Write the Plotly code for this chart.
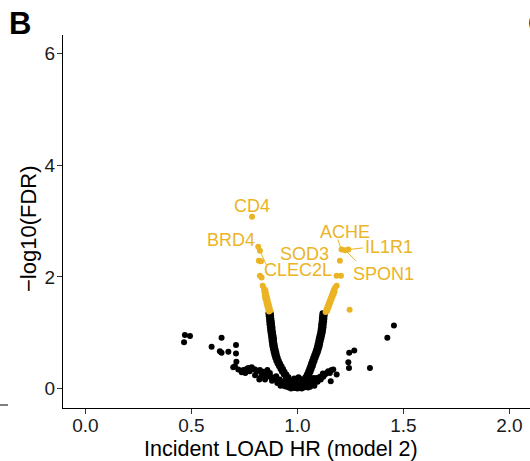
import plotly.graph_objects as go

GOLD = "#EBB425"
FONT = "Liberation Sans, Arial, Helvetica, sans-serif"

# ---- non-significant proteins (black) ----
left_arm_fdr = [1.35,1.35,1.30,1.30,1.25,1.25,1.20,1.20,1.15,1.15,1.10,1.10,1.05,1.05,1.00,1.00,
                0.95,0.95,0.90,0.90,0.85,0.85,0.80,0.80,0.75,0.75,0.70,0.70,0.65,0.65,0.60,0.60,
                0.55,0.55,0.50,0.50,0.45,0.45,0.40,0.40,0.35,0.35,0.30,0.30,0.25,0.25,0.20,0.20,
                0.15,0.15,0.10,0.10,0.05,0.05,0.02,0.02]
left_arm_hr = [0.863,0.874,0.864,0.876,0.866,0.877,0.867,0.879,0.868,0.880,0.870,0.882,0.871,0.883,
               0.873,0.885,0.875,0.887,0.877,0.889,0.878,0.890,0.880,0.892,0.882,0.894,0.885,0.897,
               0.888,0.900,0.891,0.903,0.895,0.907,0.900,0.912,0.906,0.918,0.913,0.925,0.920,0.932,
               0.927,0.939,0.936,0.948,0.946,0.958,0.956,0.968,0.966,0.978,0.979,0.991,0.990,1.000]
right_arm_fdr = list(left_arm_fdr)
right_arm_hr = [1.118,1.130,1.116,1.128,1.115,1.127,1.114,1.126,1.112,1.124,1.111,1.123,1.109,1.121,
                1.107,1.119,1.104,1.116,1.101,1.113,1.098,1.110,1.095,1.107,1.092,1.104,1.088,1.100,
                1.084,1.096,1.079,1.091,1.074,1.086,1.069,1.081,1.064,1.076,1.060,1.072,1.055,1.067,
                1.050,1.062,1.044,1.056,1.037,1.049,1.029,1.041,1.019,1.031,1.007,1.019,0.998,1.010]
wing_hr = [0.697,0.705,0.721,0.737,0.745,0.760,0.768,0.784,0.792,0.800,0.807,0.823,0.839,0.858,
           0.820,0.823,0.840,0.847,0.860,0.870,0.880,0.894,0.905,0.917,0.930,0.948,0.955,0.973,
           0.960,0.985,0.870,0.850,0.775,0.754,0.800,0.830,0.880,0.900,0.910,0.940,
           1.169,1.161,1.153,1.138,1.130,1.185,1.122,1.106,1.090,1.075,1.157,1.067,1.059,1.043,
           1.027,1.020,1.110,1.095,1.080,1.060,1.040,1.120,1.145,
           0.970,0.980,0.990,1.000,1.010,1.020,1.030,0.950,1.050,0.960,1.040,0.990,1.010,1.000,
           0.940,1.060,0.920,1.080,0.990,1.020,0.975,0.985,1.005,1.015]
wing_fdr = [0.38,0.40,0.34,0.29,0.33,0.35,0.37,0.38,0.35,0.34,0.31,0.33,0.30,0.33,
            0.16,0.19,0.22,0.16,0.25,0.21,0.14,0.17,0.10,0.16,0.08,0.10,0.05,0.04,
            0.02,0.01,0.28,0.25,0.31,0.28,0.24,0.27,0.20,0.22,0.12,0.13,
            0.34,0.33,0.28,0.28,0.25,0.25,0.21,0.21,0.19,0.19,0.13,0.13,0.13,0.10,
            0.07,0.03,0.16,0.12,0.10,0.06,0.04,0.27,0.31,
            0.00,0.05,0.02,0.00,0.01,0.00,0.02,0.03,0.02,0.08,0.07,0.10,0.08,0.04,
            0.04,0.03,0.05,0.05,0.15,0.12,0.12,0.18,0.20,0.17]
outlier_hr = [0.469,0.493,0.465,0.642,0.595,0.634,0.642,0.674,0.710,0.710,0.712,
              1.455,1.424,1.244,1.268,1.240,1.243,1.342]
outlier_fdr = [0.96,0.94,0.83,0.91,0.75,0.67,0.64,0.66,0.78,0.63,0.48,
               1.13,0.91,0.64,0.68,0.47,0.37,0.37]

# ---- significant proteins (gold) ----
sig_hr = [0.866,0.872,0.862,0.868,0.858,0.865,0.855,0.861,0.852,0.858,0.848,0.855,0.846,0.852,
          0.844,0.849,0.842,0.836,0.831,0.823,0.818,0.828,
          1.133,1.140,1.137,1.145,1.142,1.150,1.147,1.155,1.152,1.160,1.157,1.165,1.162,1.170,
          1.167,1.175,1.172,1.178,1.185,1.185,1.205,1.246]
sig_fdr = [1.38,1.40,1.42,1.45,1.47,1.50,1.52,1.55,1.57,1.60,1.62,1.65,1.67,1.70,
           1.73,1.76,1.79,1.84,1.99,2.02,2.29,2.28,
           1.37,1.39,1.42,1.44,1.47,1.49,1.52,1.54,1.57,1.59,1.62,1.64,1.67,1.69,
           1.72,1.74,1.77,1.81,1.84,2.02,2.02,1.41]

# labelled proteins
genes = ["CD4", "BRD4", "CLEC2L", "SOD3", "ACHE", "IL1R1", "SPON1"]
gene_hr = [0.786, 0.815, 0.823, 1.200, 1.208, 1.240, 1.225]
gene_fdr = [3.08, 2.54, 2.47, 2.29, 2.49, 2.49, 2.48]
# label text positions (x, y) in data units
label_x = [0.785, 0.686, 1.002, 1.031, 1.224, 1.432, 1.408]
label_y = [3.27, 2.66, 2.12, 2.41, 2.80, 2.54, 2.05]

x_ticks = [0.0, 0.5, 1.0, 1.5, 2.0]
x_ticktext = ["0.0", "0.5", "1.0", "1.5", "2.0"]
y_ticks = [0, 2, 4, 6]

ns_hr = left_arm_hr + right_arm_hr + wing_hr + outlier_hr
ns_fdr = left_arm_fdr + right_arm_fdr + wing_fdr + outlier_fdr

fig = go.Figure()
fig.add_trace(go.Scatter(x=ns_hr, y=ns_fdr, mode="markers",
                         marker=dict(color="black", size=6, line=dict(width=0)),
                         hoverinfo="skip"))
fig.add_trace(go.Scatter(x=sig_hr + gene_hr, y=sig_fdr + gene_fdr, mode="markers",
                         marker=dict(color=GOLD, size=6, line=dict(width=0)),
                         hoverinfo="skip"))

annotations = []
for g, lx, ly in zip(genes, label_x, label_y):
    annotations.append(dict(x=lx, y=ly, xref="x", yref="y", text=g, showarrow=False,
                            font=dict(family=FONT, size=18, color=GOLD),
                            xanchor="center", yanchor="middle"))

# repel segments (label -> point)
segs = {"CLEC2L": (0.854, 2.21), "ACHE": (1.190, 2.67), "IL1R1": (1.309, 2.52), "SPON1": (1.276, 2.29)}
shapes = []
for g, (sx, sy) in segs.items():
    i = genes.index(g)
    shapes.append(dict(type="line", xref="x", yref="y", x0=sx, y0=sy, x1=gene_hr[i], y1=gene_fdr[i],
                       line=dict(color=GOLD, width=1)))

# axis titles
annotations.append(dict(x=(281 - 63) / 467, y=-0.11, xref="paper", yref="paper",
                        text="Incident LOAD HR (model 2)", showarrow=False,
                        font=dict(family=FONT, size=21.5, color="black"),
                        xanchor="center", yanchor="middle"))
annotations.append(dict(x=(28 - 63) / 467, y=(408 - 229) / 373, xref="paper", yref="paper",
                        text="\u2212log10(FDR)", showarrow=False, textangle=-90,
                        font=dict(family=FONT, size=22, color="black"),
                        xanchor="center", yanchor="middle"))
# panel letters
annotations.append(dict(x=(20 - 63) / 467, y=(408 - 24) / 373, xref="paper", yref="paper",
                        text="<b>B</b>", showarrow=False,
                        font=dict(family=FONT, size=31, color="black"),
                        xanchor="center", yanchor="middle"))
annotations.append(dict(x=(526 - 63) / 467, y=(408 - 24) / 373, xref="paper", yref="paper",
                        text="<b>C</b>", showarrow=False,
                        font=dict(family=FONT, size=31, color="black"),
                        xanchor="left", yanchor="middle"))
# fragment of neighbouring panel axis at far left
shapes.append(dict(type="line", xref="paper", yref="paper",
                   x0=(0 - 63) / 467, x1=(8 - 63) / 467, y0=(408 - 405) / 373, y1=(408 - 405) / 373,
                   line=dict(color="black", width=1)))

fig.update_layout(
    width=530, height=461,
    margin=dict(l=63, r=0, t=35, b=53),
    paper_bgcolor="white", plot_bgcolor="white",
    showlegend=False,
    annotations=annotations, shapes=shapes,
    font=dict(family=FONT),
    xaxis=dict(range=[-0.106, 2.097], tickvals=x_ticks, ticktext=x_ticktext,
               ticks="outside", ticklen=5, tickwidth=1, tickcolor="#333333",
               ticklabelstandoff=-5,
               showline=True, linecolor="black", linewidth=1.2,
               showgrid=False, zeroline=False,
               tickfont=dict(family=FONT, size=19, color="#1a1a1a")),
    yaxis=dict(range=[-0.349, 6.336], tickvals=y_ticks,
               ticks="outside", ticklen=5, tickwidth=1, tickcolor="#333333",
               ticklabelstandoff=-2,
               showline=True, linecolor="black", linewidth=1.2,
               showgrid=False, zeroline=False,
               tickfont=dict(family=FONT, size=19, color="#1a1a1a")),
)

fig.write_html("out.html", config={"displayModeBar": False},
               post_script="document.body.style.margin='0';document.body.style.overflow='hidden';")
